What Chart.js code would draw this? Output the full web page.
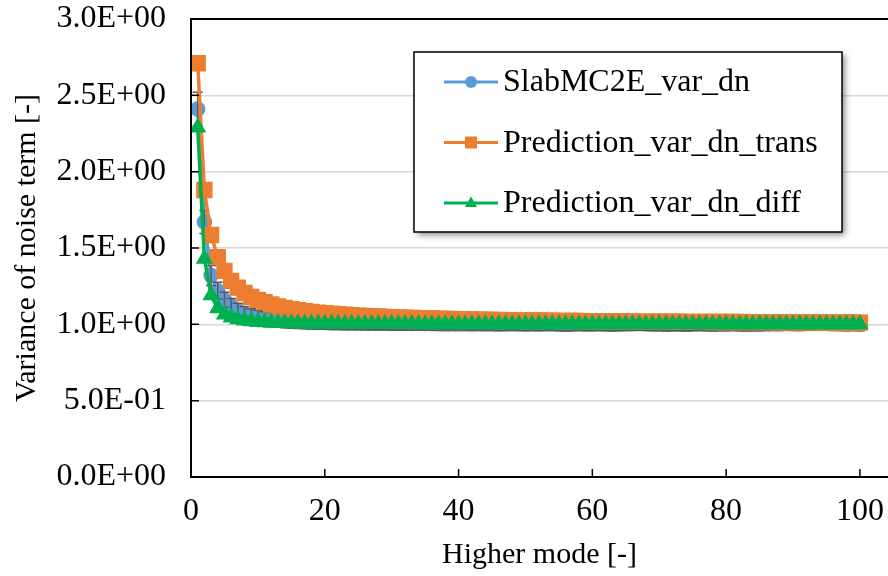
<!DOCTYPE html>
<html>
<head>
<meta charset="utf-8">
<script src="https://cdn.jsdelivr.net/npm/chart.js@4.4.0/dist/chart.umd.min.js"></script>
<style>
  html, body { margin: 0; padding: 0; background: #fff; }
</style>
</head>
<body>
<canvas id="chart" width="888" height="576"></canvas>
<script>
// higher mode index 1..100
const modes = Array.from({ length: 100 }, (_, i) => i + 1);

const slabVar = [
  2.41, 1.67, 1.32, 1.22, 1.16, 1.12, 1.09, 1.07, 1.056, 1.046,
  1.038, 1.032, 1.027, 1.023, 1.020, 1.018, 1.016, 1.014, 1.013, 1.012,
  1.011, 1.011, 1.010, 1.010, 1.009, 1.009, 1.008, 1.008, 1.008, 1.007,
  1.007, 1.007, 1.006, 1.006, 1.006, 1.006, 1.005, 1.005, 1.005, 1.005,
  1.005, 1.004, 1.005, 1.004, 1.004, 1.003, 1.004, 1.005, 1.004, 1.003,
  1.004, 1.003, 1.004, 1.004, 1.003, 1.002, 1.003, 1.004, 1.003, 1.003,
  1.004, 1.003, 1.002, 1.003, 1.004, 1.005, 1.006, 1.004, 1.003, 1.003,
  1.002, 1.003, 1.003, 1.002, 1.003, 1.004, 1.003, 1.002, 1.003, 1.003,
  1.004, 1.003, 1.002, 1.003, 1.003, 1.004, 1.005, 1.004, 1.006, 1.005,
  1.004, 1.006, 1.008, 1.009, 1.008, 1.005, 1.004, 1.003, 1.004, 1.003
];

const slabErr = [
  0.11, 0.075, 0.065, 0.055, 0.05, 0.05, 0.048, 0.047, 0.046, 0.046,
  0.045, 0.045, 0.045, 0.045, 0.045, 0.045, 0.045, 0.045, 0.045, 0.045,
  0.045, 0.045, 0.045, 0.045, 0.045, 0.045, 0.045, 0.045, 0.045, 0.045,
  0.045, 0.045, 0.045, 0.045, 0.045, 0.045, 0.045, 0.045, 0.045, 0.045,
  0.045, 0.045, 0.045, 0.045, 0.045, 0.045, 0.045, 0.045, 0.045, 0.045,
  0.045, 0.045, 0.045, 0.045, 0.045, 0.045, 0.045, 0.045, 0.045, 0.045,
  0.045, 0.045, 0.045, 0.045, 0.045, 0.045, 0.045, 0.045, 0.045, 0.045,
  0.045, 0.045, 0.045, 0.045, 0.045, 0.045, 0.045, 0.045, 0.045, 0.045,
  0.045, 0.045, 0.045, 0.045, 0.045, 0.045, 0.045, 0.045, 0.045, 0.045,
  0.045, 0.045, 0.045, 0.045, 0.045, 0.045, 0.045, 0.045, 0.045, 0.045
];

const predTrans = [
  2.71, 1.88, 1.585, 1.44, 1.35, 1.285, 1.24, 1.205, 1.18, 1.16,
  1.145, 1.13, 1.118, 1.108, 1.10, 1.093, 1.087, 1.082, 1.077, 1.073,
  1.069, 1.066, 1.063, 1.060, 1.057, 1.055, 1.053, 1.051, 1.049, 1.047,
  1.045, 1.044, 1.042, 1.041, 1.040, 1.038, 1.037, 1.036, 1.035, 1.034,
  1.033, 1.032, 1.031, 1.030, 1.029, 1.029, 1.028, 1.027, 1.026, 1.026,
  1.025, 1.025, 1.024, 1.024, 1.023, 1.023, 1.022, 1.022, 1.021, 1.021,
  1.020, 1.020, 1.020, 1.019, 1.019, 1.019, 1.018, 1.018, 1.018, 1.017,
  1.017, 1.017, 1.017, 1.016, 1.016, 1.016, 1.016, 1.015, 1.015, 1.015,
  1.015, 1.015, 1.014, 1.014, 1.014, 1.014, 1.014, 1.013, 1.013, 1.013,
  1.013, 1.013, 1.013, 1.012, 1.012, 1.012, 1.012, 1.012, 1.012, 1.011
];

const predDiff = [
  2.29, 1.43, 1.19, 1.105, 1.065, 1.045, 1.033, 1.025, 1.020, 1.016,
  1.013, 1.011, 1.009, 1.008, 1.007, 1.006, 1.005, 1.005, 1.004, 1.004,
  1.004, 1.003, 1.003, 1.003, 1.003, 1.002, 1.002, 1.002, 1.002, 1.002,
  1.002, 1.002, 1.002, 1.001, 1.001, 1.001, 1.001, 1.001, 1.001, 1.001,
  1.001, 1.001, 1.001, 1.001, 1.001, 1.001, 1.001, 1.001, 1.001, 1.001,
  1.001, 1.001, 1.001, 1.001, 1.001, 1.000, 1.000, 1.000, 1.000, 1.000,
  1.000, 1.000, 1.000, 1.000, 1.000, 1.000, 1.000, 1.000, 1.000, 1.000,
  1.000, 1.000, 1.000, 1.000, 1.000, 1.000, 1.000, 1.000, 1.000, 1.000,
  1.000, 1.000, 1.000, 1.000, 1.000, 1.000, 1.000, 1.000, 1.000, 1.000,
  1.000, 1.000, 1.000, 1.000, 1.000, 1.000, 1.000, 1.000, 1.000, 1.000
];

const seriesNames = ['SlabMC2E_var_dn', 'Prediction_var_dn_trans', 'Prediction_var_dn_diff'];
const seriesColors = ['#5B9BD5', '#ED7D31', '#00B050'];
const yTicks = [0, 0.5, 1.0, 1.5, 2.0, 2.5, 3.0];

const FONT = '"Liberation Serif", "Times New Roman", serif';

function pts(vals) {
  return modes.map((m, i) => ({ x: m, y: vals[i] }));
}

function fmtExp(v) {
  const s = Number(v).toExponential(1).toUpperCase();
  const m = s.match(/^(.*)E([+-])(\d+)$/);
  return m[1] + 'E' + m[2] + m[3].padStart(2, '0');
}

function marker(ctx, style, x, y, r) {
  ctx.beginPath();
  if (style === 'circle') {
    ctx.arc(x, y, r, 0, Math.PI * 2);
  } else if (style === 'rect') {
    ctx.rect(x - r, y - r, 2 * r, 2 * r);
  } else {
    ctx.moveTo(x, y - r * 1.1);
    ctx.lineTo(x + r, y + r * 0.65);
    ctx.lineTo(x - r, y + r * 0.65);
    ctx.closePath();
  }
  ctx.fill();
}

// error bars on the MC series
const errorBars = {
  id: 'errorBars',
  afterDatasetDraw(chart, args) {
    if (args.index !== 0) return;
    const ctx = chart.ctx;
    const ys = chart.scales.y;
    const area = chart.chartArea;
    ctx.save();
    ctx.beginPath();
    ctx.rect(area.left, area.top, area.right - area.left, area.bottom - area.top);
    ctx.clip();
    ctx.strokeStyle = '#595959';
    ctx.lineWidth = 1.5;
    args.meta.data.forEach((p, i) => {
      const y1 = ys.getPixelForValue(slabVar[i] + slabErr[i]);
      const y2 = ys.getPixelForValue(slabVar[i] - slabErr[i]);
      ctx.beginPath();
      ctx.moveTo(p.x, y1); ctx.lineTo(p.x, y2);
      ctx.moveTo(p.x - 5, y1); ctx.lineTo(p.x + 5, y1);
      ctx.moveTo(p.x - 5, y2); ctx.lineTo(p.x + 5, y2);
      ctx.stroke();
    });
    ctx.restore();
  }
};

// frame lines and inward tick marks
const frame = {
  id: 'frame',
  afterDraw(chart) {
    const ctx = chart.ctx;
    const a = chart.chartArea;
    const xs = chart.scales.x, ys = chart.scales.y;
    ctx.save();
    ctx.strokeStyle = '#000';
    ctx.lineWidth = 2;
    ctx.beginPath();
    ctx.moveTo(a.left, a.top); ctx.lineTo(a.right, a.top);
    ctx.moveTo(a.left, a.top - 1); ctx.lineTo(a.left, a.bottom + 1);
    ctx.moveTo(a.left - 1, a.bottom); ctx.lineTo(a.right, a.bottom);
    ctx.stroke();
    ctx.lineWidth = 1.5;
    ctx.beginPath();
    yTicks.forEach(v => {
      const y = ys.getPixelForValue(v);
      ctx.moveTo(a.left, y); ctx.lineTo(a.left + 8, y);
    });
    [20, 40, 60, 80, 100].forEach(v => {
      const x = xs.getPixelForValue(v);
      ctx.moveTo(x, a.bottom); ctx.lineTo(x, a.bottom - 8);
    });
    ctx.stroke();
    ctx.restore();
  }
};

// legend box inside the plot
const boxLegend = {
  id: 'boxLegend',
  afterDraw(chart) {
    const ctx = chart.ctx;
    const bx = 414, by = 52, bw = 428, bh = 180;
    ctx.save();
    ctx.shadowColor = 'rgba(0,0,0,0.45)';
    ctx.shadowBlur = 6;
    ctx.shadowOffsetX = 3;
    ctx.shadowOffsetY = 3;
    ctx.fillStyle = '#fff';
    ctx.fillRect(bx, by, bw, bh);
    ctx.restore();
    ctx.save();
    ctx.strokeStyle = '#000';
    ctx.lineWidth = 1.5;
    ctx.strokeRect(bx, by, bw, bh);
    const styles = ['circle', 'rect', 'triangle'];
    ctx.font = '32px ' + FONT;
    ctx.textBaseline = 'middle';
    seriesNames.forEach((name, i) => {
      const y = 82 + i * 60.5;
      ctx.strokeStyle = seriesColors[i];
      ctx.lineWidth = 3;
      ctx.beginPath();
      ctx.moveTo(444, y); ctx.lineTo(498, y);
      ctx.stroke();
      ctx.fillStyle = seriesColors[i];
      marker(ctx, styles[i], 471, y, 6);
      ctx.fillStyle = '#000';
      ctx.fillText(name, 503, y + 1);
    });
    ctx.restore();
  }
};

function ds(i, vals, style, radius, order) {
  return {
    label: seriesNames[i],
    data: pts(vals),
    borderColor: seriesColors[i],
    backgroundColor: seriesColors[i],
    pointBackgroundColor: seriesColors[i],
    pointBorderColor: seriesColors[i],
    pointBorderWidth: 1.5,
    borderWidth: 3.5,
    pointStyle: style,
    pointRadius: radius,
    pointHoverRadius: radius,
    tension: 0,
    order: order
  };
}

new Chart(document.getElementById('chart'), {
  type: 'line',
  data: {
    datasets: [
      ds(0, slabVar, 'circle', 7, 2),
      ds(1, predTrans, 'rect', 10.5, 1),
      ds(2, predDiff, 'triangle', 8.5, 0)
    ]
  },
  options: {
    responsive: false,
    animation: false,
    events: [],
    layout: { padding: { left: 0, top: 19, right: 0, bottom: 0 }, autoPadding: false },
    plugins: { legend: { display: false }, tooltip: { enabled: false } },
    scales: {
      x: {
        type: 'linear',
        min: 0,
        max: 104.2,
        afterFit(s) { s.height = 99; s.paddingLeft = 0; s.paddingRight = 0; },
        grid: { display: false, drawTicks: false },
        border: { display: false },
        ticks: {
          stepSize: 20,
          includeBounds: false,
          padding: 15,
          color: '#000',
          font: { family: FONT, size: 32 },
          maxRotation: 0,
          callback: v => (v % 20 === 0 && v <= 100 ? String(v) : '')
        },
        title: {
          display: true,
          text: 'Higher mode [-]',
          color: '#000',
          font: { family: FONT, size: 30 },
          padding: { top: 0, bottom: 3 }
        }
      },
      y: {
        min: 0,
        max: 3,
        afterFit(s) { s.width = 191; s.paddingTop = 0; s.paddingBottom = 0; },
        afterBuildTicks(s) { s.ticks = yTicks.map(v => ({ value: v })); },
        grid: {
          drawTicks: false,
          color: ctx => (ctx.tick && (ctx.tick.value === 0 || ctx.tick.value === 3) ? 'rgba(0,0,0,0)' : '#D9D9D9'),
          lineWidth: 1.5
        },
        border: { display: false },
        ticks: {
          padding: 25,
          color: '#000',
          font: { family: FONT, size: 32 },
          callback: v => fmtExp(v)
        },
        title: {
          display: true,
          text: 'Variance of noise term [-]',
          color: '#000',
          font: { family: FONT, size: 30 },
          padding: { top: 9, bottom: 0 }
        }
      }
    }
  },
  plugins: [errorBars, frame, boxLegend]
});
</script>
</body>
</html>
